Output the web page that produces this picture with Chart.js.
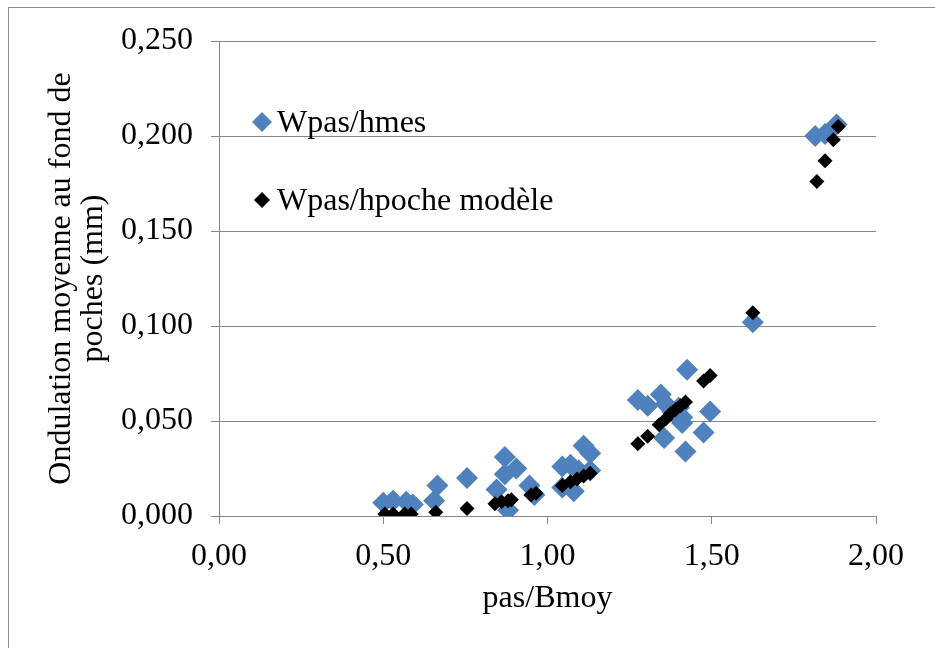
<!DOCTYPE html>
<html>
<head>
<meta charset="utf-8">
<script src="https://cdn.jsdelivr.net/npm/chart.js@4/dist/chart.umd.min.js"></script>
<style>
  html, body { margin: 0; padding: 0; background: #fff; }
  #wrap { position: relative; width: 935px; height: 648px; overflow: hidden; }
  #frame { position: absolute; left: 8px; top: 7px; width: 2000px; height: 2000px;
           border-left: 1px solid #8c8c8c; border-top: 1px solid #8c8c8c; pointer-events: none; }
  canvas { position: absolute; left: 0; top: 0; }
</style>
</head>
<body>
<div id="wrap">
  <div id="frame"></div>
  <canvas id="c" width="935" height="648"></canvas>
</div>
<script>
// ---- Data ----
const seriesNames = ["Wpas/hmes", "Wpas/hpoche modèle"];

const mesX = [0.50, 0.53, 0.57, 0.59, 0.655, 0.665, 0.755, 0.845, 0.87, 0.87, 0.905, 0.88, 0.945, 0.96,
              1.045, 1.07, 1.045, 1.08, 1.095, 1.11, 1.13, 1.13,
              1.275, 1.305, 1.345, 1.36, 1.38, 1.40, 1.41, 1.41, 1.425, 1.355, 1.42, 1.475, 1.495,
              1.625, 1.815, 1.845, 1.88];
const mesY = [0.007, 0.008, 0.0075, 0.006, 0.008, 0.016, 0.020, 0.014, 0.031, 0.022, 0.025, 0.003, 0.016, 0.011,
              0.026, 0.027, 0.015, 0.013, 0.024, 0.037, 0.033, 0.024,
              0.061, 0.058, 0.064, 0.059, 0.055, 0.057, 0.052, 0.049, 0.077, 0.041, 0.034, 0.044, 0.055,
              0.102, 0.200, 0.201, 0.206];

const modX = [0.505, 0.53, 0.565, 0.585, 0.66, 0.755, 0.84, 0.86, 0.88, 0.89, 0.95, 0.965,
              1.045, 1.07, 1.09, 1.11, 1.13,
              1.275, 1.305, 1.34, 1.36, 1.375, 1.39, 1.405, 1.42, 1.475, 1.495,
              1.625, 1.82, 1.845, 1.87, 1.885];
const modY = [0.001, 0.001, 0.001, 0.001, 0.002, 0.004, 0.0065, 0.0075, 0.008, 0.0085, 0.011, 0.012,
              0.016, 0.018, 0.0195, 0.021, 0.0225,
              0.038, 0.042, 0.048, 0.051, 0.054, 0.056, 0.058, 0.060, 0.071, 0.074,
              0.107, 0.176, 0.187, 0.198, 0.205];

const xTicks = [0, 0.5, 1.0, 1.5, 2.0];
const yTicks = [0, 0.05, 0.10, 0.15, 0.20, 0.25];
const xTitle = "pas/Bmoy";
const yTitle = ["Ondulation moyenne au fond de", "poches (mm)"];

// ---- Build ----
const toPts = (xs, ys) => xs.map((x, i) => ({ x: x, y: ys[i] }));
const BLUE = "#4F81BD";
const GRID = "#868686";
const FONT = "'Liberation Serif', 'Times New Roman', serif";
const FS = 32;

const legendPlugin = {
  id: "insideLegend",
  afterDraw(chart) {
    const ctx = chart.ctx;
    const items = [
      { ds: chart.data.datasets[1], x: 262, y: 122, r: 10 },
      { ds: chart.data.datasets[0], x: 262, y: 200, r: 8 }
    ];
    ctx.save();
    items.forEach(it => {
      ctx.beginPath();
      ctx.moveTo(it.x, it.y - it.r);
      ctx.lineTo(it.x + it.r, it.y);
      ctx.lineTo(it.x, it.y + it.r);
      ctx.lineTo(it.x - it.r, it.y);
      ctx.closePath();
      ctx.fillStyle = it.ds.backgroundColor;
      ctx.fill();
      ctx.fillStyle = "#000";
      ctx.font = FS + "px " + FONT;
      ctx.textBaseline = "alphabetic";
      ctx.textAlign = "left";
      ctx.fillText(it.ds.label, 277, it.y + 10);
    });
    ctx.restore();
  }
};

new Chart(document.getElementById("c"), {
  type: "scatter",
  data: {
    datasets: [
      { label: seriesNames[1], data: toPts(modX, modY), order: 0,
        pointStyle: "rectRot", pointRadius: 7.5, pointHoverRadius: 7.5,
        backgroundColor: "#000", borderColor: "#000", borderWidth: 0 },
      { label: seriesNames[0], data: toPts(mesX, mesY), order: 1,
        pointStyle: "rectRot", pointRadius: 11, pointHoverRadius: 11,
        backgroundColor: BLUE, borderColor: BLUE, borderWidth: 0 }
    ]
  },
  options: {
    responsive: false,
    animation: false,
    events: [],
    layout: { padding: { left: 0, top: 41, right: 59, bottom: 0 } },
    plugins: { legend: { display: false }, tooltip: { enabled: false } },
    scales: {
      x: {
        type: "linear", min: 0, max: 2,
        afterFit(s) { s.height = 132; },
        afterBuildTicks(s) { s.ticks = xTicks.map(v => ({ value: v })); },
        ticks: { color: "#000", font: { family: FONT, size: FS }, padding: 13,
                 maxRotation: 0, autoSkip: false,
                 callback: v => v.toFixed(2).replace(".", ",") },
        grid: { drawOnChartArea: false, drawTicks: true, tickLength: 8, color: GRID, lineWidth: 1 },
        border: { display: true, color: GRID, width: 1 },
        title: { display: true, text: xTitle, color: "#000",
                 font: { family: FONT, size: FS, lineHeight: 1.0 }, padding: { top: 0, bottom: 33 } }
      },
      y: {
        type: "linear", min: 0, max: 0.25,
        afterFit(s) { s.width = 219; },
        afterBuildTicks(s) { s.ticks = yTicks.map(v => ({ value: v })); },
        ticks: { color: "#000", font: { family: FONT, size: FS }, padding: 18, autoSkip: false,
                 callback: v => v.toFixed(3).replace(".", ",") },
        grid: { drawOnChartArea: true, drawTicks: true, tickLength: 8, color: GRID, lineWidth: 1 },
        border: { display: true, color: GRID, width: 1 },
        title: { display: true, text: yTitle, color: "#000",
                 font: { family: FONT, size: FS, lineHeight: 1.0 }, padding: { top: 46, bottom: 0 } }
      }
    }
  },
  plugins: [legendPlugin]
});
</script>
</body>
</html>
